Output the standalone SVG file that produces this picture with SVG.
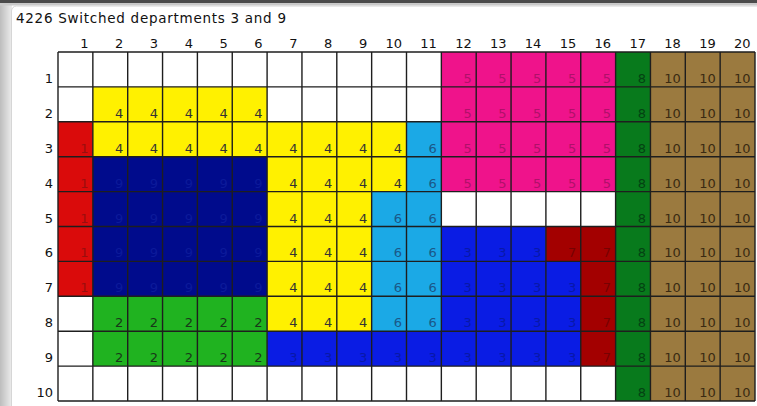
<svg xmlns="http://www.w3.org/2000/svg" width="757" height="406" viewBox="0 0 757 406">
<defs>
<linearGradient id="shadow" x1="0" y1="0" x2="1" y2="0">
<stop offset="0" stop-color="#bdbdbd"/>
<stop offset="1" stop-color="#ededed"/>
</linearGradient>
</defs>
<style>
text{font-family:"DejaVu Sans","Verdana",sans-serif;font-size:13px;}
.title{font-size:13.5px;}
.n{text-anchor:end;}
.lab{fill:#111;}
.d1{fill:#da0b0b}.t1{fill:#9a0e0e}
.d2{fill:#20b320}.t2{fill:#183818}
.d3{fill:#0a1ce4}.t3{fill:#0818a8}
.d4{fill:#fff100}.t4{fill:#333}
.d5{fill:#ef138b}.t5{fill:#b0106a}
.d6{fill:#1ba9e6}.t6{fill:#1a5788}
.d7{fill:#a30000}.t7{fill:#760202}
.d8{fill:#087a1c}.t8{fill:#044212}
.d9{fill:#000b8c}.t9{fill:#0c1a9a}
.d10{fill:#9b7a3f}.t10{fill:#3a2a12}
.grid{stroke:#1e1e1e;stroke-width:1.4;fill:none;}
</style>
<rect x="0" y="0" width="757" height="406" fill="#ffffff"/>
<rect x="0" y="0" width="12" height="406" fill="url(#shadow)"/>
<rect x="0" y="0" width="757" height="3" fill="#4b4b4b"/>
<rect x="0" y="3" width="757" height="2.5" fill="#c9c9c9"/>
<rect x="11.5" y="6" width="760" height="420" rx="5" fill="#ffffff" stroke="#d6d6d6"/>

<text id="title" x="16" y="23" textLength="270" lengthAdjust="spacing" class="lab title">4226 Switched departments 3 and 9</text>

<g id="col-labels" class="n lab">
<text x="88.5" y="47.5">1</text><text x="123.3" y="47.5">2</text><text x="158.1" y="47.5">3</text><text x="193" y="47.5">4</text><text x="227.8" y="47.5">5</text><text x="262.6" y="47.5">6</text><text x="297.5" y="47.5">7</text><text x="332.3" y="47.5">8</text><text x="367.2" y="47.5">9</text><text x="402" y="47.5">10</text><text x="436.9" y="47.5">11</text><text x="471.7" y="47.5">12</text><text x="506.6" y="47.5">13</text><text x="541.4" y="47.5">14</text><text x="576.3" y="47.5">15</text><text x="611.1" y="47.5">16</text><text x="646" y="47.5">17</text><text x="680.8" y="47.5">18</text><text x="715.7" y="47.5">19</text><text x="750.5" y="47.5">20</text>
</g>
<g id="row-labels" class="n lab">
<text x="53" y="83">1</text><text x="53" y="117.8">2</text><text x="53" y="152.7">3</text><text x="53" y="187.6">4</text><text x="53" y="222.5">5</text><text x="53" y="257.4">6</text><text x="53" y="292.3">7</text><text x="53" y="327.2">8</text><text x="53" y="362.1">9</text><text x="53" y="397">10</text>
</g>

<g id="dept1">
<rect class="d1" x="58" y="121.8" width="34.85" height="174.5"/>
<g class="n t1"><text x="88.5" y="152.7">1</text><text x="88.5" y="187.6">1</text><text x="88.5" y="222.5">1</text><text x="88.5" y="257.4">1</text><text x="88.5" y="292.3">1</text></g>
</g>
<g id="dept4">
<rect class="d4" x="92.85" y="86.9" width="174.25" height="34.9"/>
<rect class="d4" x="92.85" y="121.8" width="313.65" height="34.9"/>
<rect class="d4" x="267.1" y="156.7" width="139.4" height="34.9"/>
<rect class="d4" x="267.1" y="191.6" width="104.55" height="139.6"/>
<g class="n t4">
<text x="123.3" y="117.8">4</text><text x="158.1" y="117.8">4</text><text x="193" y="117.8">4</text><text x="227.8" y="117.8">4</text><text x="262.6" y="117.8">4</text>
<text x="123.3" y="152.7">4</text><text x="158.1" y="152.7">4</text><text x="193" y="152.7">4</text><text x="227.8" y="152.7">4</text><text x="262.6" y="152.7">4</text><text x="297.5" y="152.7">4</text><text x="332.3" y="152.7">4</text><text x="367.2" y="152.7">4</text><text x="402" y="152.7">4</text>
<text x="297.5" y="187.6">4</text><text x="332.3" y="187.6">4</text><text x="367.2" y="187.6">4</text><text x="402" y="187.6">4</text>
<text x="297.5" y="222.5">4</text><text x="332.3" y="222.5">4</text><text x="367.2" y="222.5">4</text>
<text x="297.5" y="257.4">4</text><text x="332.3" y="257.4">4</text><text x="367.2" y="257.4">4</text>
<text x="297.5" y="292.3">4</text><text x="332.3" y="292.3">4</text><text x="367.2" y="292.3">4</text>
<text x="297.5" y="327.2">4</text><text x="332.3" y="327.2">4</text><text x="367.2" y="327.2">4</text>
</g>
</g>
<g id="dept9">
<rect class="d9" x="92.85" y="156.7" width="174.25" height="139.6"/>
<g class="n t9">
<text x="123.3" y="187.6">9</text><text x="158.1" y="187.6">9</text><text x="193" y="187.6">9</text><text x="227.8" y="187.6">9</text><text x="262.6" y="187.6">9</text>
<text x="123.3" y="222.5">9</text><text x="158.1" y="222.5">9</text><text x="193" y="222.5">9</text><text x="227.8" y="222.5">9</text><text x="262.6" y="222.5">9</text>
<text x="123.3" y="257.4">9</text><text x="158.1" y="257.4">9</text><text x="193" y="257.4">9</text><text x="227.8" y="257.4">9</text><text x="262.6" y="257.4">9</text>
<text x="123.3" y="292.3">9</text><text x="158.1" y="292.3">9</text><text x="193" y="292.3">9</text><text x="227.8" y="292.3">9</text><text x="262.6" y="292.3">9</text>
</g>
</g>
<g id="dept6">
<rect class="d6" x="406.5" y="121.8" width="34.85" height="69.8"/>
<rect class="d6" x="371.65" y="191.6" width="69.7" height="139.6"/>
<g class="n t6">
<text x="436.9" y="152.7">6</text><text x="436.9" y="187.6">6</text>
<text x="402" y="222.5">6</text><text x="436.9" y="222.5">6</text>
<text x="402" y="257.4">6</text><text x="436.9" y="257.4">6</text>
<text x="402" y="292.3">6</text><text x="436.9" y="292.3">6</text>
<text x="402" y="327.2">6</text><text x="436.9" y="327.2">6</text>
</g>
</g>
<g id="dept5">
<rect class="d5" x="441.35" y="52" width="174.25" height="139.6"/>
<g class="n t5">
<text x="471.7" y="83">5</text><text x="506.6" y="83">5</text><text x="541.4" y="83">5</text><text x="576.3" y="83">5</text><text x="611.1" y="83">5</text>
<text x="471.7" y="117.8">5</text><text x="506.6" y="117.8">5</text><text x="541.4" y="117.8">5</text><text x="576.3" y="117.8">5</text><text x="611.1" y="117.8">5</text>
<text x="471.7" y="152.7">5</text><text x="506.6" y="152.7">5</text><text x="541.4" y="152.7">5</text><text x="576.3" y="152.7">5</text><text x="611.1" y="152.7">5</text>
<text x="471.7" y="187.6">5</text><text x="506.6" y="187.6">5</text><text x="541.4" y="187.6">5</text><text x="576.3" y="187.6">5</text><text x="611.1" y="187.6">5</text>
</g>
</g>
<g id="dept3">
<rect class="d3" x="441.35" y="226.5" width="104.55" height="34.9"/>
<rect class="d3" x="441.35" y="261.4" width="139.4" height="69.8"/>
<rect class="d3" x="267.1" y="331.2" width="313.65" height="34.9"/>
<g class="n t3">
<text x="471.7" y="257.4">3</text><text x="506.6" y="257.4">3</text><text x="541.4" y="257.4">3</text>
<text x="471.7" y="292.3">3</text><text x="506.6" y="292.3">3</text><text x="541.4" y="292.3">3</text><text x="576.3" y="292.3">3</text>
<text x="471.7" y="327.2">3</text><text x="506.6" y="327.2">3</text><text x="541.4" y="327.2">3</text><text x="576.3" y="327.2">3</text>
<text x="297.5" y="362.1">3</text><text x="332.3" y="362.1">3</text><text x="367.2" y="362.1">3</text><text x="402" y="362.1">3</text><text x="436.9" y="362.1">3</text><text x="471.7" y="362.1">3</text><text x="506.6" y="362.1">3</text><text x="541.4" y="362.1">3</text><text x="576.3" y="362.1">3</text>
</g>
</g>
<g id="dept7">
<rect class="d7" x="545.9" y="226.5" width="69.7" height="34.9"/>
<rect class="d7" x="580.75" y="261.4" width="34.85" height="104.7"/>
<g class="n t7">
<text x="576.3" y="257.4">7</text><text x="611.1" y="257.4">7</text><text x="611.1" y="292.3">7</text><text x="611.1" y="327.2">7</text><text x="611.1" y="362.1">7</text>
</g>
</g>
<g id="dept2">
<rect class="d2" x="92.85" y="296.3" width="174.25" height="69.8"/>
<g class="n t2">
<text x="123.3" y="327.2">2</text><text x="158.1" y="327.2">2</text><text x="193" y="327.2">2</text><text x="227.8" y="327.2">2</text><text x="262.6" y="327.2">2</text>
<text x="123.3" y="362.1">2</text><text x="158.1" y="362.1">2</text><text x="193" y="362.1">2</text><text x="227.8" y="362.1">2</text><text x="262.6" y="362.1">2</text>
</g>
</g>
<g id="dept8">
<rect class="d8" x="615.6" y="52" width="34.85" height="349"/>
<g class="n t8">
<text x="646" y="83">8</text><text x="646" y="117.8">8</text><text x="646" y="152.7">8</text><text x="646" y="187.6">8</text><text x="646" y="222.5">8</text><text x="646" y="257.4">8</text><text x="646" y="292.3">8</text><text x="646" y="327.2">8</text><text x="646" y="362.1">8</text><text x="646" y="397">8</text>
</g>
</g>
<g id="dept10">
<rect class="d10" x="650.45" y="52" width="104.55" height="349"/>
<g class="n t10">
<text x="680.8" y="83">10</text><text x="715.7" y="83">10</text><text x="750.5" y="83">10</text>
<text x="680.8" y="117.8">10</text><text x="715.7" y="117.8">10</text><text x="750.5" y="117.8">10</text>
<text x="680.8" y="152.7">10</text><text x="715.7" y="152.7">10</text><text x="750.5" y="152.7">10</text>
<text x="680.8" y="187.6">10</text><text x="715.7" y="187.6">10</text><text x="750.5" y="187.6">10</text>
<text x="680.8" y="222.5">10</text><text x="715.7" y="222.5">10</text><text x="750.5" y="222.5">10</text>
<text x="680.8" y="257.4">10</text><text x="715.7" y="257.4">10</text><text x="750.5" y="257.4">10</text>
<text x="680.8" y="292.3">10</text><text x="715.7" y="292.3">10</text><text x="750.5" y="292.3">10</text>
<text x="680.8" y="327.2">10</text><text x="715.7" y="327.2">10</text><text x="750.5" y="327.2">10</text>
<text x="680.8" y="362.1">10</text><text x="715.7" y="362.1">10</text><text x="750.5" y="362.1">10</text>
<text x="680.8" y="397">10</text><text x="715.7" y="397">10</text><text x="750.5" y="397">10</text>
</g>
</g>

<g id="grid-lines" class="grid">
<path d="M58 52V401M92.85 52V401M127.7 52V401M162.55 52V401M197.4 52V401M232.25 52V401M267.1 52V401M301.95 52V401M336.8 52V401M371.65 52V401M406.5 52V401M441.35 52V401M476.2 52V401M511.05 52V401M545.9 52V401M580.75 52V401M615.6 52V401M650.45 52V401M685.3 52V401M720.15 52V401M755 52V401"/>
<path d="M58 52H755M58 86.9H755M58 121.8H755M58 156.7H755M58 191.6H755M58 226.5H755M58 261.4H755M58 296.3H755M58 331.2H755M58 366.1H755M58 401H755"/>
</g>
</svg>
